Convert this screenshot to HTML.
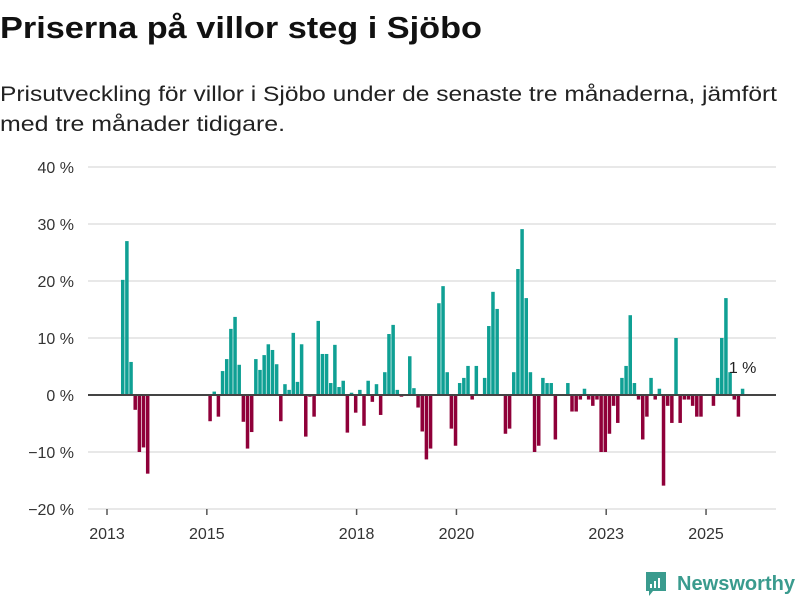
<!DOCTYPE html>
<html><head><meta charset="utf-8"><style>
body{margin:0;background:#fff;width:800px;height:600px;overflow:hidden;font-family:"Liberation Sans",sans-serif;}
svg text{font-family:"Liberation Sans",sans-serif;}
</style></head><body>
<svg id="chart" width="800" height="600" xmlns="http://www.w3.org/2000/svg">
<text x="0" y="38" font-size="31" font-weight="bold" fill="#111" textLength="482" lengthAdjust="spacingAndGlyphs">Priserna på villor steg i Sjöbo</text>
<text x="0" y="101" font-size="21" fill="#222" textLength="777" lengthAdjust="spacingAndGlyphs">Prisutveckling för villor i Sjöbo under de senaste tre månaderna, jämfört</text>
<text x="0" y="131" font-size="21" fill="#222" textLength="285" lengthAdjust="spacingAndGlyphs">med tre månader tidigare.</text>
<g id="grid"></g><g id="bars"></g><g id="axes"></g>
<g>
<path d="M646 572 h20 v19 h-13 l-4 5 v-5 h-3 z" fill="#3a9b8e"/>
<rect x="650" y="584" width="2" height="4" fill="#fff"/><rect x="654" y="581" width="2" height="7" fill="#fff"/><rect x="658" y="578" width="2" height="10" fill="#fff"/>
<text x="677" y="590" font-size="20" font-weight="bold" fill="#3a9b8e" textLength="118" lengthAdjust="spacingAndGlyphs">Newsworthy</text>
</g>
</svg>
<script>
const months=[3,4,5,6,7,8,9,24,25,26,27,28,29,30,31,32,33,34,35,36,37,38,39,40,41,42,43,44,45,46,47,48,49,50,51,52,53,54,55,56,57,58,59,60,61,62,63,64,65,66,67,68,69,70,72,73,74,75,76,77,79,80,81,82,83,84,85,86,87,88,90,91,92,93,95,96,97,98,99,100,101,102,103,104,105,106,107,110,111,112,113,114,115,116,117,118,119,120,121,122,123,124,125,126,127,128,129,130,131,132,133,134,135,136,137,138,139,140,141,142,145,146,147,148,149,150,151,152];
const values=[20.2,27,5.8,-2.6,-10,-9.2,-13.8,-4.6,0.6,-3.8,4.2,6.3,11.6,13.7,5.3,-4.7,-9.4,-6.5,6.3,4.4,7,8.9,7.9,5.4,-4.6,1.9,0.9,10.9,2.3,8.9,-7.3,-0.3,-3.8,13,7.2,7.2,2.1,8.8,1.4,2.5,-6.6,0.4,-3.1,0.9,-5.4,2.5,-1.2,1.9,-3.5,4,10.7,12.3,0.9,-0.3,6.8,1.2,-2.2,-6.4,-11.3,-9.4,16.1,19.1,4,-5.9,-8.9,2.1,3,5.1,-0.8,5.1,3,12.1,18.1,15.1,-6.8,-5.9,4,22.1,29.1,17,4,-10,-8.9,3,2.1,2.1,-7.8,2.1,-2.9,-2.9,-0.8,1.1,-0.8,-1.9,-0.8,-10,-10,-6.8,-1.9,-4.9,3,5.1,14,2.1,-0.8,-7.8,-3.8,3,-0.8,1.1,-15.9,-1.9,-4.9,10,-4.9,-0.8,-0.8,-1.9,-3.8,-3.8,-1.9,3,10,17,4,-0.8,-3.8,1.1];
const yTicks=[40,30,20,10,0,-10,-20];
const yTickLabels=["40 %","30 %","20 %","10 %","0 %","−10 %","−20 %"];
const xTickYears=[2013,2015,2018,2020,2023,2025];
const lastLabel="1 %";
const NS="http://www.w3.org/2000/svg";
function y(v){return 395-v*5.7;}
function x(m){return 108.5+m*4.16;}
function mk(tag,attrs,parent){const e=document.createElementNS(NS,tag);for(const k in attrs)e.setAttribute(k,attrs[k]);document.getElementById(parent).appendChild(e);return e;}
yTicks.forEach((t,i)=>{
 if(t!==0){const l=mk('line',{x1:88,x2:776,y1:y(t),y2:y(t),stroke:'#e0e0e0','stroke-width':1.5},'grid');
 
 }
 const tx=mk('text',{x:74,y:y(t)+6,'text-anchor':'end','font-size':16,fill:'#333'},'axes');
 tx.textContent=yTickLabels[i];
 
 
});
months.forEach((m,i)=>{
 const v=values[i];
 const r=mk('rect',{x:x(m),width:3.5,y:Math.min(y(v),y(0)),height:Math.abs(y(v)-y(0)),fill:v>=0?'#0fa094':'#8f0039'},'bars');
 
 
});
const z=mk('line',{x1:88,x2:776,y1:y(0),y2:y(0),stroke:'#444','stroke-width':2},'axes');


xTickYears.forEach(yr=>{
 const px=x((yr-2013)*12)-1.5;
 const tk=mk('line',{x1:px,x2:px,y1:509,y2:515,stroke:'#555','stroke-width':1.5},'axes');
 
 
 const t=mk('text',{x:px,y:539,'text-anchor':'middle','font-size':16,fill:'#333'},'axes');
 t.textContent=yr;
 
 
});
const lm=months[months.length-1];
const lt=mk('text',{x:x(lm)-12,y:373,'font-size':16,fill:'#222'},'axes');
lt.textContent=lastLabel;


</script>
</body></html>
